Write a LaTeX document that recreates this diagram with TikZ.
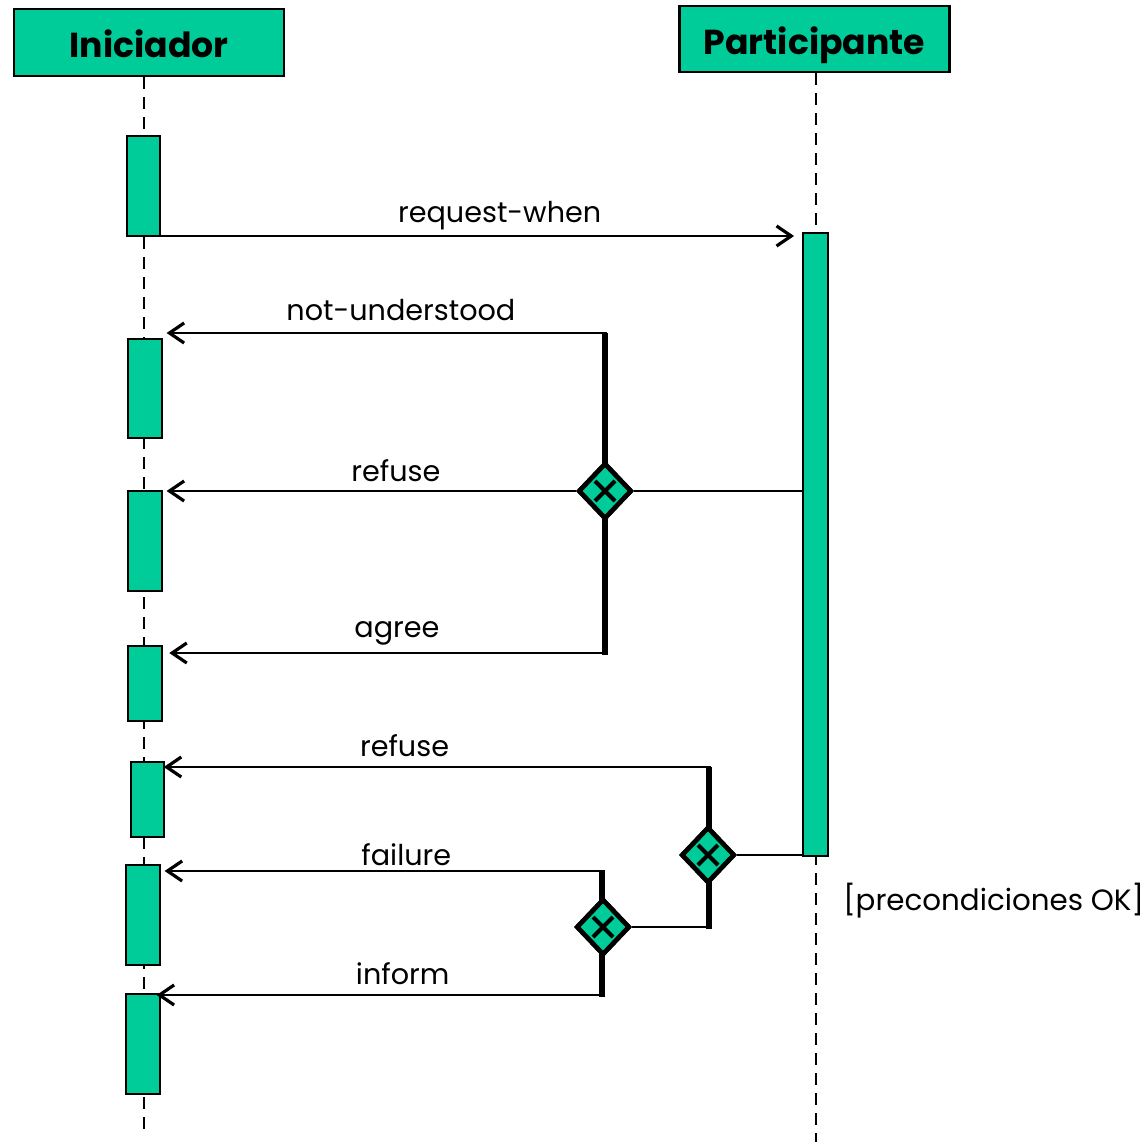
\documentclass[tikz,border=0pt]{standalone}
\usepackage{fontspec}
\setmainfont{Poppins}
\usetikzlibrary{arrows.meta,shapes.geometric}
\definecolor{actgreen}{RGB}{0,204,153}

\begin{document}
\begin{tikzpicture}[x=0.75pt,y=-0.75pt,
  lifebox/.style={draw, fill=actgreen, line width=1.6pt, inner sep=0pt,
    minimum width=202.5pt, minimum height=50pt, text height=23pt, text depth=0pt,
    font=\bfseries\fontsize{26}{30}\selectfont},
  actbar/.style={draw, fill=actgreen, line width=1.4pt, inner sep=0pt, minimum width=25pt},
  lifeline/.style={line width=1.8pt, dash pattern=on 9pt off 6pt},
  msg/.style={line width=2pt, -{Straight Barb[length=11pt,width=15pt,line width=2.4pt]}},
  plain/.style={line width=2pt},
  branch/.style={line width=4.5pt},
  xchoice/.style={draw, shape=diamond, fill=actgreen, line width=3.5pt, inner sep=0pt,
    minimum width=40pt, minimum height=42pt},
  xmark/.style={line width=3pt},
  lbl/.style={font=\fontsize{21.5}{25}\selectfont, inner sep=0pt}]
\useasboundingbox (0,0) rectangle (1147,1142);

% lifeline heads
\node[lifebox] (ini) at (149,42.5) {Iniciador};
\node[lifebox] (par) at (814.5,39) {Participante};

% dashed lifelines
\coordinate (iniend) at (144,1130);
\coordinate (parend) at (816,1142);
\draw[lifeline] (ini.south -| iniend) -- (iniend);
\draw[lifeline] (par.south -| parend) -- (parend);

% activation bars of the initiator
\node[actbar, minimum height=75pt]   (a1) at (143.5,186) {};
\node[actbar, minimum height=74.3pt] (a2) at (145,388.5) {};
\node[actbar, minimum height=75pt]   (a3) at (145,541) {};
\node[actbar, minimum height=56.3pt] (a4) at (145,683.5) {};
\node[actbar, minimum height=56.3pt] (a5) at (147.5,799.5) {};
\node[actbar, minimum height=75pt]   (a6) at (143,915) {};
\node[actbar, minimum height=75pt]   (a7) at (143,1044) {};

% activation bar of the participant
\node[actbar, minimum width=18.75pt, minimum height=467.25pt] (pb) at (815.5,544.5) {};

% request
\coordinate (rq) at (147,236);
\draw[msg] (rq) -- ([xshift=-6] rq -| pb.west)
  node[lbl, pos=0.545, above=3.5pt] {request-when};

% first choice: not-understood / refuse / agree
\coordinate (t1) at (605,333);
\coordinate (b1) at (605,655);
\node[xchoice] (d1) at (605,491) {};
\draw[branch] (t1) -- (b1);
\node[xchoice] at (d1) {};
\draw[xmark] ([shift={(-10,-10)}]d1.center) -- ([shift={(10,10)}]d1.center);
\draw[xmark] ([shift={(10,-10)}]d1.center) -- ([shift={(-10,10)}]d1.center);
\draw[plain] (d1.east) -- (d1.east -| pb.west);

\draw[msg] ([xshift=1.5] t1) -- ([xshift=3] t1 -| a2.east)
  node[lbl, pos=0.468, above=8pt] {not-understood};
\draw[msg] (d1.west) -- ([xshift=3] d1.west -| a3.east)
  node[lbl, pos=0.44, above=6pt] {refuse};
\coordinate (ag) at (605,653);
\draw[msg] ([xshift=1.5] ag) -- ([xshift=5] ag -| a4.east)
  node[lbl, pos=0.48, above=5pt] {agree};

% second choice: refuse / third choice
\coordinate (t2) at (709,767);
\coordinate (b2) at (709,929);
\node[xchoice] (d2) at (708,855) {};
\draw[branch] (t2) -- (b2);
\node[xchoice] at (d2) {};
\draw[xmark] ([shift={(-10,-10)}]d2.center) -- ([shift={(10,10)}]d2.center);
\draw[xmark] ([shift={(10,-10)}]d2.center) -- ([shift={(-10,10)}]d2.center);
\draw[plain] (d2.east) -- (d2.east -| pb.west);
\draw[msg] ([xshift=1.5] t2) -- ([xshift=-1] t2 -| a5.east)
  node[lbl, pos=0.56, above=7pt] {refuse};

% third choice: failure / inform
\coordinate (t3) at (602,870);
\coordinate (b3) at (602,997);
\node[xchoice] (d3) at (603,927) {};
\draw[branch] (t3) -- (b3);
\node[xchoice] at (d3) {};
\draw[xmark] ([shift={(-10,-10)}]d3.center) -- ([shift={(10,10)}]d3.center);
\draw[xmark] ([shift={(10,-10)}]d3.center) -- ([shift={(-10,10)}]d3.center);
\draw[plain] ([xshift=1.5] b2) |- (d3.east);
\draw[msg] ([xshift=1.5] 602,871) coordinate (f0) -- ([xshift=3] f0 -| a6.east)
  node[lbl, pos=0.45, above=3pt] {failure};
\draw[msg] ([xshift=1.5] 602,995) coordinate (i0) -- ([xshift=-3] i0 -| a7.east)
  node[lbl, pos=0.45, above=7pt] {inform};

% guard
\node[lbl, anchor=west, font=\fontsize{22}{26}\selectfont] (guard) at (843,901) {[precondiciones OK]};
\end{tikzpicture}
\end{document}
